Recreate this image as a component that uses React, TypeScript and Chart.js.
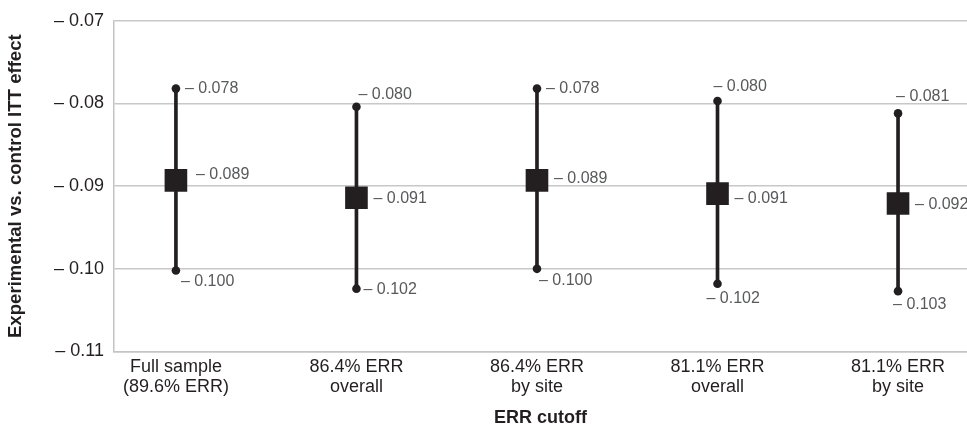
import React, { useEffect, useRef } from "react";
import { Chart, registerables } from "chart.js";

Chart.register(...registerables);

const CATEGORIES: string[][] = [
  ["Full sample", "(89.6% ERR)"],
  ["86.4% ERR", "overall"],
  ["86.4% ERR", "by site"],
  ["81.1% ERR", "overall"],
  ["81.1% ERR", "by site"],
];
const POINT_EST = [-0.0893, -0.0914, -0.0893, -0.0909, -0.0921];
const CI_UPPER = [-0.0782, -0.0804, -0.0782, -0.0797, -0.0812];
const CI_LOWER = [-0.1002, -0.1024, -0.1, -0.1018, -0.1027];
const Y_MIN = -0.11;
const Y_MAX = -0.07;
const Y_STEP = 0.01;

const fmt = (v: number, d: number) => "\u2013 " + Math.abs(v).toFixed(d);

const FONT = "'Liberation Sans', Arial, Helvetica, sans-serif";

const labelPlugin = {
  id: "ciLabels",
  afterDatasetsDraw(chart: any, _args: any, opts: any) {
    const { ctx, scales } = chart;
    const xs = scales.x;
    const ys = scales.y;
    ctx.save();
    ctx.font = `16px ${FONT}`;
    ctx.fillStyle = "#58595b";
    ctx.textAlign = "left";
    ctx.textBaseline = "middle";
    const groups = [
      { vals: CI_UPPER, off: opts.upper },
      { vals: POINT_EST, off: opts.mid },
      { vals: CI_LOWER, off: opts.lower },
    ];
    groups.forEach((g) => {
      g.vals.forEach((v: number, i: number) => {
        const px = xs.getPixelForValue(i) + g.off[i][0];
        const py = ys.getPixelForValue(v) + g.off[i][1];
        ctx.fillText(fmt(v, 3), px, py);
      });
    });
    ctx.restore();
  },
};

export default function App() {
  const ref = useRef<HTMLCanvasElement | null>(null);
  useEffect(() => {
    if (!ref.current) return;
    const idx = CATEGORIES.map((_, i) => i);
    const chart = new Chart(ref.current, {
      type: "bar",
      data: {
        datasets: [
          {
            type: "line",
            label: "Estimate",
            data: idx.map((i) => ({ x: i, y: POINT_EST[i] })),
            showLine: false,
            pointStyle: "rect",
            pointRadius: 16,
            pointBackgroundColor: "#231f20",
            pointBorderWidth: 0,
            order: 0,
          } as any,
          {
            type: "line",
            label: "Upper",
            data: idx.map((i) => ({ x: i, y: CI_UPPER[i] })),
            showLine: false,
            pointRadius: 4.3,
            pointBackgroundColor: "#231f20",
            pointBorderWidth: 0,
            order: 1,
          } as any,
          {
            type: "line",
            label: "Lower",
            data: idx.map((i) => ({ x: i, y: CI_LOWER[i] })),
            showLine: false,
            pointRadius: 4.3,
            pointBackgroundColor: "#231f20",
            pointBorderWidth: 0,
            order: 1,
          } as any,
          {
            type: "bar",
            label: "CI",
            data: idx.map((i) => ({ x: i, y: [CI_LOWER[i], CI_UPPER[i]] })),
            backgroundColor: "#231f20",
            barThickness: 3,
            borderSkipped: false,
            order: 2,
          } as any,
        ],
      },
      options: {
        responsive: false,
        animation: false,
        layout: { autoPadding: false, padding: { top: 18, right: 0, left: 0, bottom: 0 } },
        plugins: {
          legend: { display: false },
          tooltip: { enabled: false },
          ciLabels: {
            upper: [[9, 0], [2, -12], [9, 0], [-4, -14], [-2, -17]],
            mid: [[20, -6], [17, 1], [17, -2], [17, 5], [17, 1]],
            lower: [[5, 11], [7, 1], [2, 12], [-11, 15], [-5, 13]],
          },
        } as any,
        scales: {
          x: {
            type: "linear",
            offset: false,
            min: -0.343,
            max: 4.382,
            afterBuildTicks: (s: any) => {
              s.ticks = idx.map((v) => ({ value: v }));
            },
            afterFit: (s: any) => {
              s.height = 75.5;
              s.paddingRight = 0;
              s.paddingLeft = 0;
            },
            grid: { display: false, drawTicks: false, offset: false },
            border: { display: true, color: "#c4c4c4", width: 1.5 },
            ticks: {
              autoSkip: false,
              maxRotation: 0,
              minRotation: 0,
              padding: 6,
              color: "#231f20",
              font: { family: FONT, size: 18, lineHeight: 1.1 },
              callback: (v: any) => CATEGORIES[Math.round(Number(v))] ?? "",
            },
            title: {
              display: true,
              text: "ERR cutoff",
              color: "#231f20",
              font: { family: FONT, size: 18, weight: "bold", lineHeight: 1 },
              padding: { top: 0, bottom: 0 },
            },
          },
          y: {
            min: Y_MIN,
            max: Y_MAX,
            afterFit: (s: any) => {
              s.width = 114;
            },
            grid: { color: "#c8c8c8", lineWidth: 1.5, drawTicks: false },
            border: { display: true, color: "#c4c4c4", width: 1.5 },
            ticks: {
              stepSize: Y_STEP,
              padding: 10,
              color: "#231f20",
              font: { family: FONT, size: 18 },
              callback: (v: any) => fmt(Number(v), 2),
            },
            title: {
              display: true,
              text: "Experimental vs. control ITT effect",
              color: "#231f20",
              font: { family: FONT, size: 18.6, weight: "bold", lineHeight: 1.2 },
              padding: { top: 5, bottom: 0 },
            },
          },
        },
      } as any,
      plugins: [labelPlugin],
    });
    return () => chart.destroy();
  }, []);

  return (
    <div style={{ position: "fixed", left: 0, top: 0, width: 967, height: 427, background: "#fff" }}>
      <canvas ref={ref} width={967} height={427} style={{ display: "block" }} />
    </div>
  );
}
